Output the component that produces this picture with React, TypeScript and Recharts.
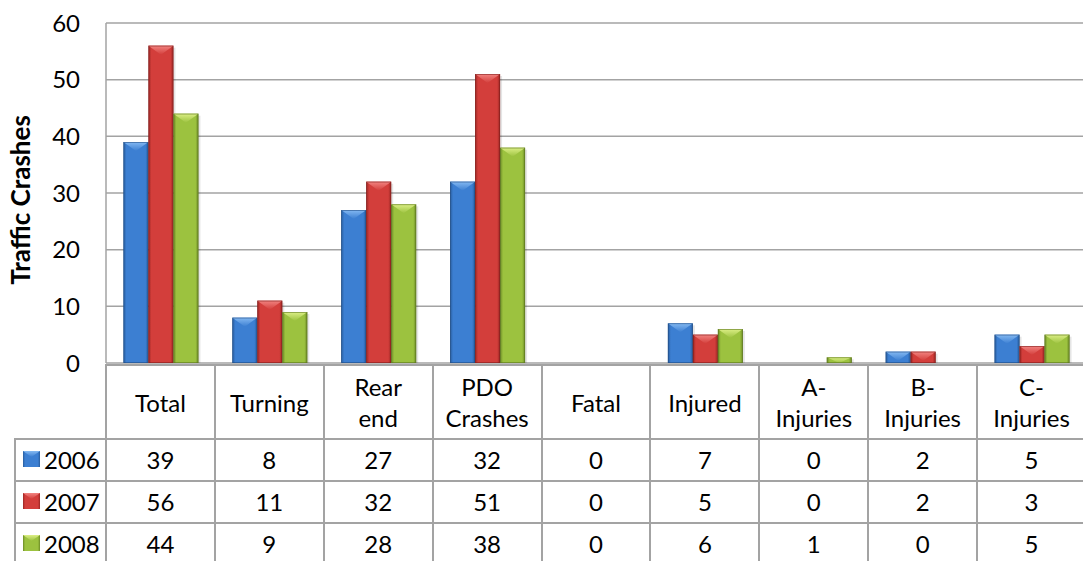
import { BarChart, Bar, XAxis, YAxis, CartesianGrid } from 'recharts';

const categories = ['Total', 'Turning', 'Rear\nend', 'PDO\nCrashes', 'Fatal', 'Injured', 'A-\nInjuries', 'B-\nInjuries', 'C-\nInjuries'];
const years = ['2006', '2007', '2008'];
const values2006 = [39, 8, 27, 32, 0, 7, 0, 2, 5];
const values2007 = [56, 11, 32, 51, 0, 5, 0, 2, 3];
const values2008 = [44, 9, 28, 38, 0, 6, 1, 0, 5];
const yTicks = [0, 10, 20, 30, 40, 50, 60];

const seriesValues = [values2006, values2007, values2008];

const palettes = [
  { id: 'blue', dark: '#285c9c', mid: '#3c7fd2', light: '#84b9f2', edge: '#1f4a80' },
  { id: 'red', dark: '#9a2623', mid: '#d33e3b', light: '#f28481', edge: '#7e1d1b' },
  { id: 'green', dark: '#6c8a26', mid: '#9cc23f', light: '#dcef86', edge: '#58711d' },
];

const data = categories.map((c, i) => ({
  name: c,
  y2006: values2006[i],
  y2007: values2007[i],
  y2008: values2008[i],
}));

const FONT = 'Lato, "Open Sans", sans-serif';
const GRID = '#a3a3a3';
const FS = 24;

// plot geometry (chart is 1086 wide, clipped to the 1083 page)
const PLOT_LEFT = 106;
const PLOT_RIGHT = 1086;
const COL_W = (PLOT_RIGHT - PLOT_LEFT) / categories.length;
const TABLE_TOP = 364;
const HEADER_H = 74;
const ROW_H = 42;

function makeBarShape(p: typeof palettes[number]) {
  return (props: any) => {
    const { x, y, width: w, height: h } = props;
    if (!h || h <= 0) return <g />;
    const bv = Math.min(9, h);
    return (
      <g>
        <rect x={x + 2} y={y + 2} width={w} height={h - 2} fill="#000" opacity={0.1} />
        <rect x={x} y={y} width={w} height={h} fill={`url(#side-${p.id})`} />
        <polygon points={`${x},${y} ${x + w},${y} ${x + w / 2},${y + bv}`} fill={`url(#top-${p.id})`} />
        <rect x={x + 0.4} y={y + 0.4} width={w - 0.8} height={h - 0.8} fill="none" stroke={p.edge} strokeWidth={0.8} opacity={0.7} />
      </g>
    );
  };
}

function Key({ p }: { p: typeof palettes[number] }) {
  return (
    <svg width={17} height={16} style={{ display: 'block' }}>
      <rect x={0} y={0} width={17} height={16} fill={`url(#side-${p.id})`} />
      <polygon points="0,0 17,0 8.5,6" fill={`url(#top-${p.id})`} />
    </svg>
  );
}

export default function App() {
  const lineStyle = { position: 'absolute' as const, background: GRID };
  return (
    <div style={{ position: 'absolute', left: 0, top: 0, width: 1083, height: 561, overflow: 'hidden', background: '#fff', fontFamily: FONT }}>
      <svg width={0} height={0} style={{ position: 'absolute' }}>
        <defs>
          {palettes.map(p => (
            <linearGradient key={`s${p.id}`} id={`side-${p.id}`} x1="0" y1="0" x2="1" y2="0">
              <stop offset="0" stopColor={p.dark} />
              <stop offset="0.12" stopColor={p.mid} />
              <stop offset="0.5" stopColor={p.mid} />
              <stop offset="0.88" stopColor={p.mid} />
              <stop offset="1" stopColor={p.dark} />
            </linearGradient>
          ))}
          {palettes.map(p => (
            <linearGradient key={`t${p.id}`} id={`top-${p.id}`} x1="0" y1="0" x2="0" y2="1">
              <stop offset="0" stopColor={p.light} />
              <stop offset="1" stopColor={p.mid} />
            </linearGradient>
          ))}
        </defs>
      </svg>

      <div style={{ position: 'absolute', left: 0, top: 0 }}>
        <BarChart width={1086} height={400} data={data} margin={{ top: 23, right: 0, left: 0, bottom: 37 }} barCategoryGap="16%" barGap={0}>
          <CartesianGrid vertical={false} stroke={GRID} strokeWidth={1.5} />
          <XAxis dataKey="name" hide />
          <YAxis
            width={106}
            domain={[0, 60]}
            ticks={yTicks}
            interval={0}
            tickLine={false}
            tickMargin={20}
            axisLine={{ stroke: GRID, strokeWidth: 1.5 }}
            tick={{ fontSize: FS, fill: '#000', fontFamily: FONT }}
          />
          {palettes.map((p, si) => (
            <Bar key={p.id} dataKey={`y${years[si]}`} shape={makeBarShape(p)} isAnimationActive={false} />
          ))}
        </BarChart>
      </div>

      {/* y axis title */}
      <div style={{ position: 'absolute', left: 20, top: 200, transform: 'translate(-50%, -50%) rotate(-90deg)', fontWeight: 700, fontSize: 26, whiteSpace: 'nowrap', color: '#000' }}>
        Traffic Crashes
      </div>

      {/* data table */}
      <div style={{ ...lineStyle, left: PLOT_LEFT, top: TABLE_TOP, width: PLOT_RIGHT - PLOT_LEFT, height: 2 }} />
      {years.map((_, r) => (
        <div key={`h${r}`} style={{ ...lineStyle, left: 14, top: TABLE_TOP + HEADER_H + r * ROW_H, width: PLOT_RIGHT - 14, height: 2 }} />
      ))}
      <div style={{ ...lineStyle, left: 14, top: TABLE_TOP + HEADER_H, width: 2, height: 561 - TABLE_TOP - HEADER_H }} />
      {categories.concat(['']).map((_, k) => (
        <div key={`v${k}`} style={{ ...lineStyle, left: PLOT_LEFT + k * COL_W - 1, top: TABLE_TOP, width: 2, height: 561 - TABLE_TOP }} />
      ))}

      {categories.map((c, k) => (
        <div key={`c${k}`} style={{ position: 'absolute', left: PLOT_LEFT + k * COL_W, top: TABLE_TOP + 1, width: COL_W, height: HEADER_H, display: 'flex', flexDirection: 'column', justifyContent: 'center', alignItems: 'center', fontSize: FS, lineHeight: '31px', color: '#000' }}>
          {c.split('\n').map((ln, j) => <div key={j}>{ln}</div>)}
        </div>
      ))}

      {years.map((yr, r) => (
        <div key={`r${r}`}>
          <div style={{ position: 'absolute', left: 16, top: TABLE_TOP + HEADER_H + r * ROW_H + 1, width: PLOT_LEFT - 17, height: ROW_H - 2, display: 'flex', alignItems: 'center', fontSize: FS, color: '#000' }}>
            <div style={{ marginLeft: 7, marginRight: 4 }}><Key p={palettes[r]} /></div>
            <span>{yr}</span>
          </div>
          {seriesValues[r].map((v, k) => (
            <div key={k} style={{ position: 'absolute', left: PLOT_LEFT + k * COL_W, top: TABLE_TOP + HEADER_H + r * ROW_H + 1, width: COL_W, height: ROW_H - 2, display: 'flex', alignItems: 'center', justifyContent: 'center', fontSize: FS, color: '#000' }}>
              {v}
            </div>
          ))}
        </div>
      ))}
    </div>
  );
}
